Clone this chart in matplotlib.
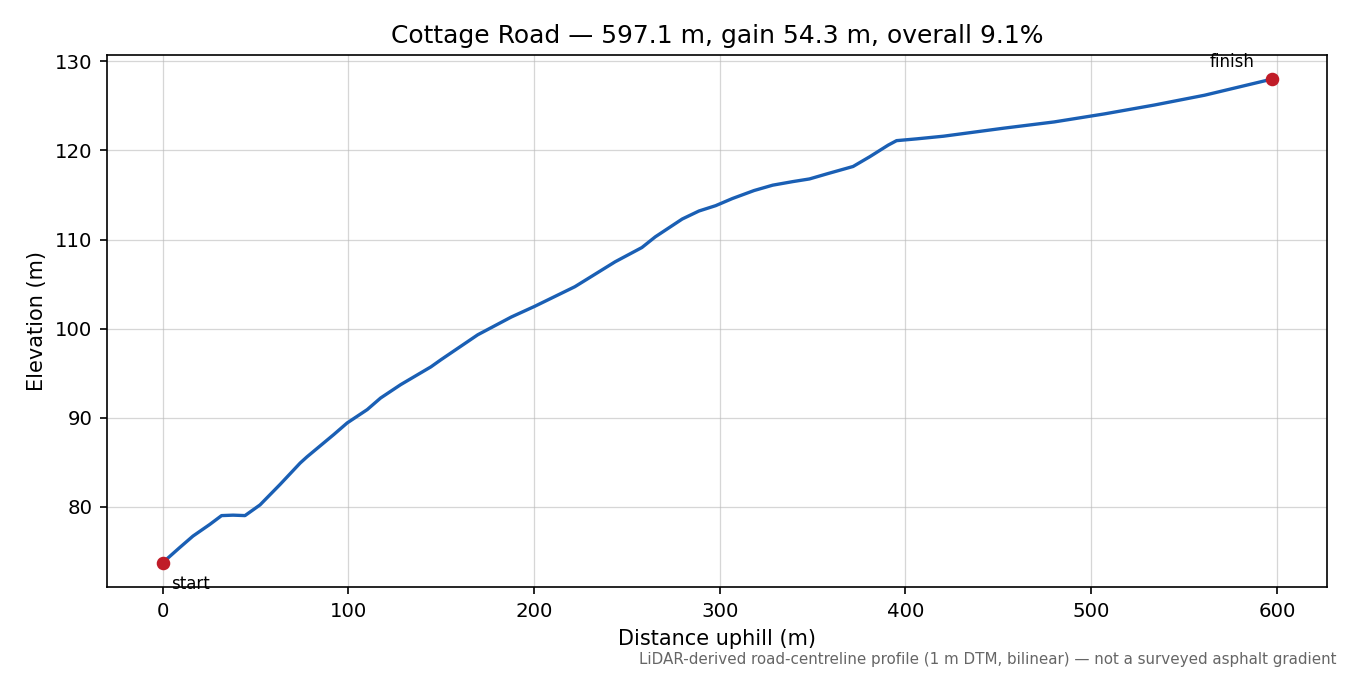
import matplotlib
matplotlib.use("Agg")
import matplotlib.pyplot as plt
import numpy as np

# profile (distance m, elevation m)
dist = [0.0, 3.8, 9.2, 16.4, 25.4, 31.8, 38.0, 44.4, 52.5, 63.3, 74.1, 77.8,
        92.2, 99.4, 110.2, 117.4, 128.2, 144.5, 149.9, 169.7, 187.8, 200.4,
        222.0, 243.7, 258.1, 265.3, 279.8, 288.8, 297.8, 306.8, 318.5, 328.5,
        339.3, 348.3, 358.2, 371.8, 380.8, 390.7, 395.2, 406.0, 420.5, 452.9,
        480.0, 507.0, 534.0, 561.0, 597.1]
elev = [73.7, 74.4, 75.4, 76.7, 78.0, 79.0, 79.05, 79.0, 80.2, 82.5, 84.9, 85.6,
        88.1, 89.4, 90.9, 92.2, 93.7, 95.7, 96.5, 99.3, 101.3, 102.5,
        104.7, 107.5, 109.1, 110.3, 112.3, 113.2, 113.8, 114.6, 115.5, 116.1,
        116.5, 116.8, 117.4, 118.2, 119.3, 120.6, 121.1, 121.3, 121.6, 122.5,
        123.2, 124.1, 125.1, 126.2, 128.0]

road = "Cottage Road"
length = 597.1
gain = 54.3
grade = 9.1

fig = plt.figure(figsize=(9, 4.5), dpi=150)
ax = fig.add_axes([0.0793, 0.1304, 0.9037, 0.7881])

ax.plot(dist, elev, color="#1a5fb4", lw=1.6, zorder=2)
ax.plot([dist[0], dist[-1]], [elev[0], elev[-1]], "o", color="#c01c28",
        ms=5.5, zorder=3)
ax.annotate("start", (dist[0], elev[0]), xytext=(4, -6),
            textcoords="offset points", ha="left", va="top", fontsize=8)
ax.annotate("finish", (dist[-1], elev[-1]), xytext=(-8, 4),
            textcoords="offset points", ha="right", va="bottom", fontsize=8)

ax.set_title(f"{road} — {length:.1f} m, gain {gain:.1f} m, overall {grade:.1f}%",
             fontsize=12)
ax.set_xlabel("Distance uphill (m)", fontsize=10)
ax.set_ylabel("Elevation (m)", fontsize=10)
ax.tick_params(labelsize=9.5)
ax.grid(True, color="#bbbbbb", alpha=0.6, lw=0.6)
ax.set_axisbelow(True)

fig.text(0.99, 0.012, "LiDAR-derived road-centreline profile (1 m DTM, bilinear) — not a surveyed asphalt gradient",
         ha="right", va="bottom", fontsize=7.25, color="#666666")

fig.savefig("out.png", dpi=150)
